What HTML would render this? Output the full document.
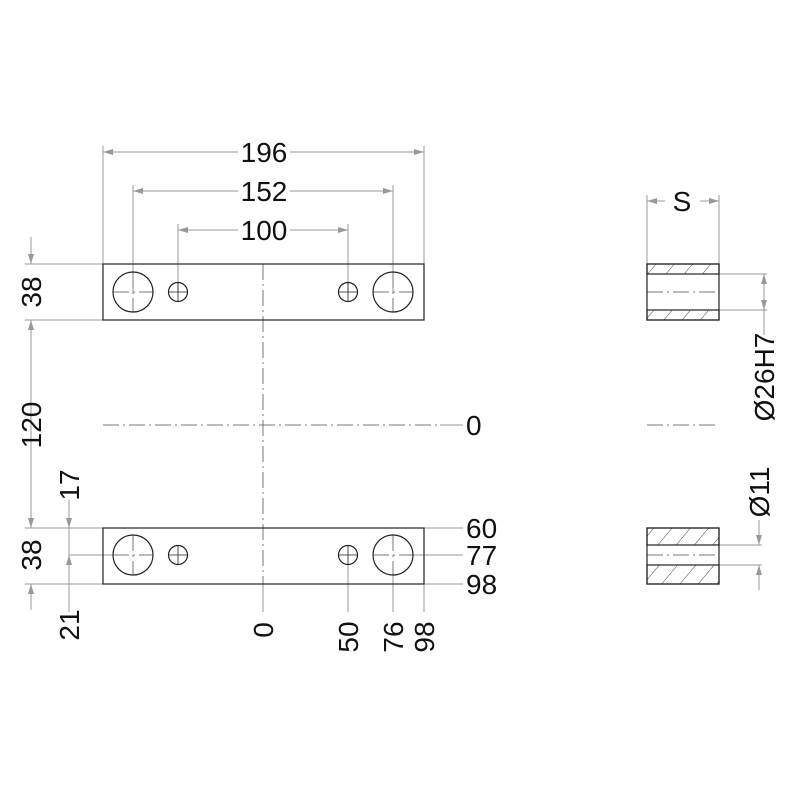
<!DOCTYPE html><html><head><style>body{margin:0;background:#fff}svg{display:block}text{font-family:"Liberation Sans",sans-serif;font-size:28px;fill:#111}</style></head><body>
<svg width="800" height="800" viewBox="0 0 800 800">
<defs>
<marker id="a" viewBox="0 0 10 6" refX="10" refY="3" markerWidth="14" markerHeight="6" markerUnits="userSpaceOnUse" orient="auto-start-reverse"><path d="M0,0L10,3L0,6z" fill="#999"/></marker>
<pattern id="h" width="14" height="14" patternUnits="userSpaceOnUse" patternTransform="rotate(40)"><line x1="0" y1="0" x2="0" y2="14" stroke="#444" stroke-width="1"/></pattern>
</defs>
<g stroke="#999" stroke-width="1" fill="none">
<line x1="103" y1="146" x2="103" y2="264"/><line x1="424" y1="146" x2="424" y2="264"/>
<line x1="133" y1="185" x2="133" y2="292"/><line x1="393" y1="185" x2="393" y2="292"/>
<line x1="178" y1="224" x2="178" y2="292"/><line x1="348" y1="224" x2="348" y2="292"/>
<line x1="103" y1="152" x2="238" y2="152" marker-start="url(#a)"/><line x1="290" y1="152" x2="424" y2="152" marker-end="url(#a)"/>
<line x1="133" y1="191" x2="238" y2="191" marker-start="url(#a)"/><line x1="290" y1="191" x2="393" y2="191" marker-end="url(#a)"/>
<line x1="178" y1="230" x2="238" y2="230" marker-start="url(#a)"/><line x1="290" y1="230" x2="348" y2="230" marker-end="url(#a)"/>
<line x1="25" y1="264" x2="103" y2="264"/><line x1="25" y1="320" x2="103" y2="320"/>
<line x1="25" y1="528" x2="103" y2="528"/><line x1="25" y1="584" x2="103" y2="584"/>
<line x1="31" y1="237" x2="31" y2="264" marker-end="url(#a)"/>
<line x1="31" y1="320" x2="31" y2="528" marker-start="url(#a)" marker-end="url(#a)"/>
<line x1="31" y1="584" x2="31" y2="610" marker-start="url(#a)"/>
<line x1="69" y1="500" x2="69" y2="528" marker-end="url(#a)"/>
<line x1="69" y1="555" x2="69" y2="584" marker-start="url(#a)"/>
<line x1="69" y1="528" x2="69" y2="555"/>
<line x1="69" y1="584" x2="69" y2="612"/>
<line x1="69" y1="555" x2="113" y2="555"/>
<line x1="424" y1="528" x2="463" y2="528"/><line x1="413" y1="555" x2="463" y2="555"/><line x1="424" y1="584" x2="463" y2="584"/>
<line x1="424" y1="584" x2="424" y2="612"/><line x1="393" y1="575" x2="393" y2="612"/><line x1="348" y1="565" x2="348" y2="612"/>
<line x1="263" y1="584" x2="263" y2="612"/>
<line x1="440" y1="425" x2="463" y2="425"/>
<line x1="647" y1="195" x2="647" y2="264"/><line x1="719" y1="195" x2="719" y2="264"/>
<line x1="647" y1="201" x2="665" y2="201" marker-start="url(#a)"/><line x1="700" y1="201" x2="719" y2="201" marker-end="url(#a)"/>
<line x1="719" y1="274" x2="767" y2="274"/><line x1="719" y1="310" x2="767" y2="310"/>
<line x1="764" y1="274" x2="764" y2="310" marker-start="url(#a)" marker-end="url(#a)"/>
<line x1="764" y1="310" x2="764" y2="335"/>
<line x1="719" y1="545" x2="762" y2="545"/><line x1="719" y1="565" x2="762" y2="565"/>
<line x1="759" y1="520" x2="759" y2="545" marker-end="url(#a)"/>
<line x1="759" y1="565" x2="759" y2="590" marker-start="url(#a)"/>
</g>
<g stroke="#777" stroke-width="1" stroke-dasharray="16,4,2,4" fill="none">
<line x1="263" y1="264" x2="263" y2="584"/>
<line x1="103" y1="425" x2="440" y2="425"/>
<line x1="647" y1="425" x2="719" y2="425"/>
<line x1="647" y1="292" x2="719" y2="292"/>
<line x1="647" y1="555" x2="719" y2="555"/>
<line x1="113" y1="292" x2="153" y2="292"/><line x1="133" y1="272" x2="133" y2="312"/>
<line x1="373" y1="292" x2="413" y2="292"/><line x1="393" y1="272" x2="393" y2="312"/>
<line x1="113" y1="555" x2="153" y2="555"/><line x1="133" y1="535" x2="133" y2="575"/>
<line x1="373" y1="555" x2="413" y2="555"/><line x1="393" y1="535" x2="393" y2="575"/>
</g>
<g stroke="#222" stroke-width="1.2" fill="none">
<rect x="103" y="264" width="321" height="56"/>
<rect x="103" y="528" width="321" height="56"/>
<circle cx="133" cy="292" r="20"/><circle cx="393" cy="292" r="20"/>
<circle cx="178" cy="292" r="9.5"/><circle cx="348" cy="292" r="9.5"/>
<circle cx="133" cy="555" r="20"/><circle cx="393" cy="555" r="20"/>
<circle cx="178" cy="555" r="9.5"/><circle cx="348" cy="555" r="9.5"/>
<path d="M168.5 292h19M178 282.5v19M338.5 292h19M348 282.5v19M168.5 555h19M178 545.5v19M338.5 555h19M348 545.5v19" stroke-width="0.8"/>
<rect x="647" y="264" width="72" height="10" fill="url(#h)"/>
<rect x="647" y="310" width="72" height="10" fill="url(#h)"/>
<rect x="647" y="264" width="72" height="56"/>
<rect x="647" y="528" width="72" height="17" fill="url(#h)"/>
<rect x="647" y="565" width="72" height="19" fill="url(#h)"/>
<rect x="647" y="528" width="72" height="56"/>
</g>
<g>
<text x="264" y="162" text-anchor="middle">196</text>
<text x="264" y="201" text-anchor="middle">152</text>
<text x="264" y="240" text-anchor="middle">100</text>
<text x="682" y="211" text-anchor="middle">S</text>
<text x="466" y="435">0</text>
<text x="466" y="538">60</text>
<text x="466" y="565">77</text>
<text x="466" y="594">98</text>
<text transform="translate(41,292) rotate(-90)" text-anchor="middle">38</text>
<text transform="translate(41,425) rotate(-90)" text-anchor="middle">120</text>
<text transform="translate(41,555) rotate(-90)" text-anchor="middle">38</text>
<text transform="translate(79,485) rotate(-90)" text-anchor="middle">17</text>
<text transform="translate(79,625) rotate(-90)" text-anchor="middle">21</text>
<text transform="translate(273,630) rotate(-90)" text-anchor="middle">0</text>
<text transform="translate(358,637) rotate(-90)" text-anchor="middle">50</text>
<text transform="translate(403,637) rotate(-90)" text-anchor="middle">76</text>
<text transform="translate(434,637) rotate(-90)" text-anchor="middle">98</text>
<text transform="translate(774,377) rotate(-90)" text-anchor="middle">Ø26H7</text>
<text transform="translate(769,492) rotate(-90)" text-anchor="middle">Ø11</text>
</g>
</svg></body></html>
